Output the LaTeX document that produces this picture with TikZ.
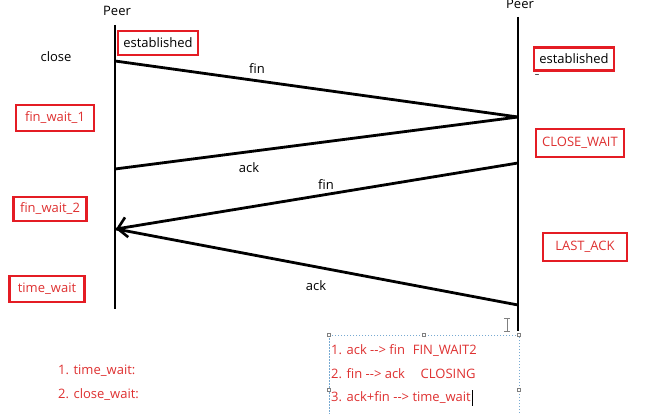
\documentclass[tikz,border=0pt]{standalone}
\usepackage{fontspec}
\setmainfont{Open Sans}
\usetikzlibrary{arrows.meta}
\definecolor{boxred}{RGB}{228,28,36}
\definecolor{txtred}{RGB}{222,48,48}
\definecolor{selblue}{RGB}{120,170,210}
\begin{document}
\begin{tikzpicture}[x=1pt,y=-1pt,
  lifeline/.style={line width=2.8pt},
  msg/.style={line width=2.8pt},
  lbl/.style={font=\fontsize{13}{15}\selectfont, inner sep=0pt},
  statebox/.style={draw=boxred, line width=2.8pt, font=\fontsize{13}{15}\selectfont, text=txtred, inner sep=0pt, minimum height=24pt},
  blackbox/.style={statebox, text=black},
  note/.style={font=\fontsize{13}{15}\selectfont, text=txtred, inner sep=0pt, anchor=west}]
\useasboundingbox (0,0) rectangle (650,414);
% lifelines
\coordinate (L1) at (115,25);
\coordinate (L2) at (115,309);
\coordinate (R1) at (518,17);
\coordinate (R2) at (518,331);
\draw[lifeline] (L1) -- (L2);
\draw[lifeline] (R1) -- (R2);
\node[lbl] (peerL) at (117,11) {Peer};
\node[lbl] (peerR) at (520,4) {Peer};
% message points
\coordinate (a) at (115,61);
\coordinate (b) at (518,117);
\coordinate (c) at (115,169);
\coordinate (d) at (518,163);
\coordinate (e) at (116,229);
\coordinate (f) at (518,305);
\draw[msg] (a) -- (b);
\draw[msg] (b) -- (c);
\draw[msg, -{Straight Barb[length=9pt,width=20pt,line width=2.6pt]}] (d) -- (e);
\draw[msg] (e) -- (f);
\node[lbl] (l1) at (257,69) {fin};
\node[lbl] (l2) at (249,168) {ack};
\node[lbl] (l3) at (326,185) {fin};
\node[lbl] (l4) at (316,286) {ack};
% states left
\node[blackbox, minimum width=80pt] (estL) at (158,43) {established};
\node[lbl] (close) at (56,57) {close};
\node[statebox, minimum width=78pt, minimum height=26pt] (fw1) at (55,118) {fin\_wait\_1};
\node[statebox, minimum width=73pt] (fw2) at (50,209) {fin\_wait\_2};
\node[statebox, minimum width=75pt, minimum height=26pt] (tw) at (47,289) {time\_wait};
% states right
\node[blackbox, minimum width=80pt, minimum height=23pt] (estR) at (574,59) {established};
\node[lbl] (dash) at (537,76) {\fontsize{9}{9}\selectfont \textendash};
\node[statebox, minimum width=88pt, minimum height=28pt] (cw) at (580,143) {CLOSE\_WAIT};
\node[statebox, minimum width=84pt, minimum height=28pt] (la) at (585,247) {LAST\_ACK};
% bottom notes
\node[note] (n1) at (58,371) {1. time\_wait:};
\node[note] (n2) at (58,395) {2. close\_wait:};
% selection box
\coordinate (s1) at (329,335);
\coordinate (s2) at (519,420);
\draw[selblue, dashed, line width=0.6pt, dash pattern=on 1.5pt off 1.5pt] (s1) rectangle (s2);
\foreach \p in {(329,335),(424,335),(519,335),(329,390),(519,390)}
  \draw[gray, fill=white, line width=0.4pt] \p ++(-1.5,-1.5) rectangle ++(3,3);
\node[note] (m1) at (331,351) {1. ack -{}-> fin\hspace{0.6em}FIN\_WAIT2};
\node[note] (m2) at (331,374) {2. fin -{}-> ack\hspace{1.2em}CLOSING};
\node[note] (m3) at (331,398) {3. ack+fin -{}-> time\_wait};
\draw[black, line width=0.8pt] (m3.east) ++(1,-8) -- ++(0,16);
% I-beam cursor
\draw[gray, line width=0.7pt] (507,318) -- (507,331) (504,318) -- (510,318) (504,331) -- (510,331);
\end{tikzpicture}
\end{document}
